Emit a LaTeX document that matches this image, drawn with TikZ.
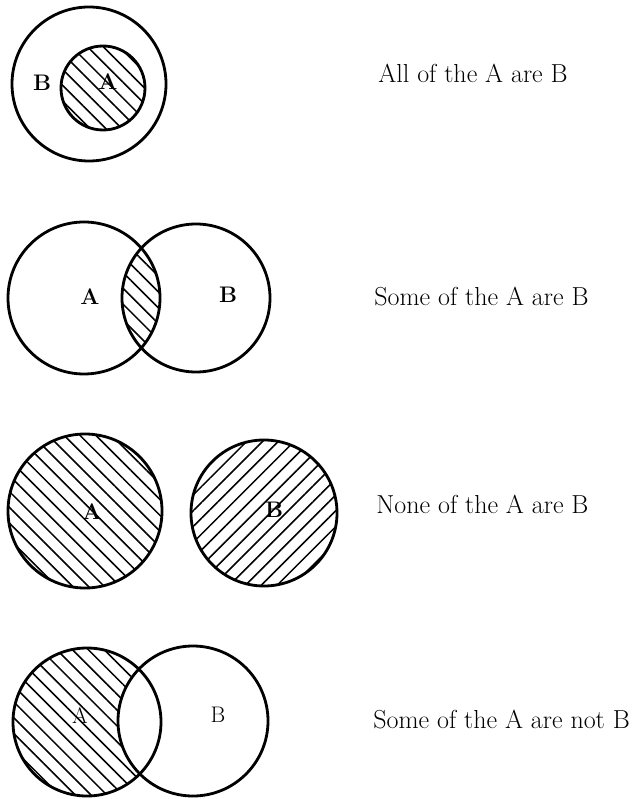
\documentclass[tikz,border=0pt]{standalone}
\usepackage{tikz}
\usetikzlibrary{patterns.meta}

\begin{document}
\begin{tikzpicture}[x=0.025cm,y=0.025cm,line width=2pt,
  ring/.style={draw=black},
  hatchL/.style={pattern={Lines[angle=-45,distance=0.28cm,line width=1.1pt]}},
  hatchR/.style={pattern={Lines[angle=45,distance=0.28cm,line width=1.1pt]}},
  tag/.style={font=\fontsize{16}{18}\selectfont\bfseries,inner sep=0pt},
  caption/.style={font=\fontsize{18.5}{22}\selectfont,anchor=base west,inner sep=0pt}]
\useasboundingbox (0,0) rectangle (640,-799);
% all of A are B
\draw[ring] (89,-84) circle (77);
\draw[ring,hatchL] (103,-88) circle (42);
\node[tag] (allB) at (42,-83) {B};
\node[tag] (allA) at (108,-82) {A};
\node[caption] (allcap) at (377,-83) {All of the A are B};
% some A are B
\begin{scope}
\clip (84,-298) circle (76);
\fill[hatchL] (196,-298) circle (74);
\end{scope}
\draw[ring] (84,-298) circle (76);
\draw[ring] (196,-298) circle (74);
\node[tag] (someA) at (90,-297) {A};
\node[tag] (someB) at (228,-295) {B};
\node[caption] (somecap) at (373,-306) {Some of the A are B};
% none of A are B
\draw[ring,hatchL] (85,-511) circle (77);
\draw[ring,hatchR] (264,-513) circle (73);
\node[tag] (noneA) at (92,-512) {A};
\node[tag] (noneB) at (274,-510) {B};
\node[caption] (nonecap) at (375,-513) {None of the A are B};
% some A are not B
\fill[hatchL] (87,-722) circle (74);
\begin{scope}
\clip (87,-722) circle (74);
\fill[white] (193,-721) circle (75);
\end{scope}
\draw[ring] (87,-722) circle (74);
\draw[ring] (193,-721) circle (75);
\node[tag,font=\fontsize{16}{18}\selectfont] (notA) at (80,-716) {A};
\node[tag,font=\fontsize{16}{18}\selectfont] (notB) at (218,-715) {B};
\node[caption] (notcap) at (372,-728) {Some of the A are not B};
\end{tikzpicture}
\end{document}
